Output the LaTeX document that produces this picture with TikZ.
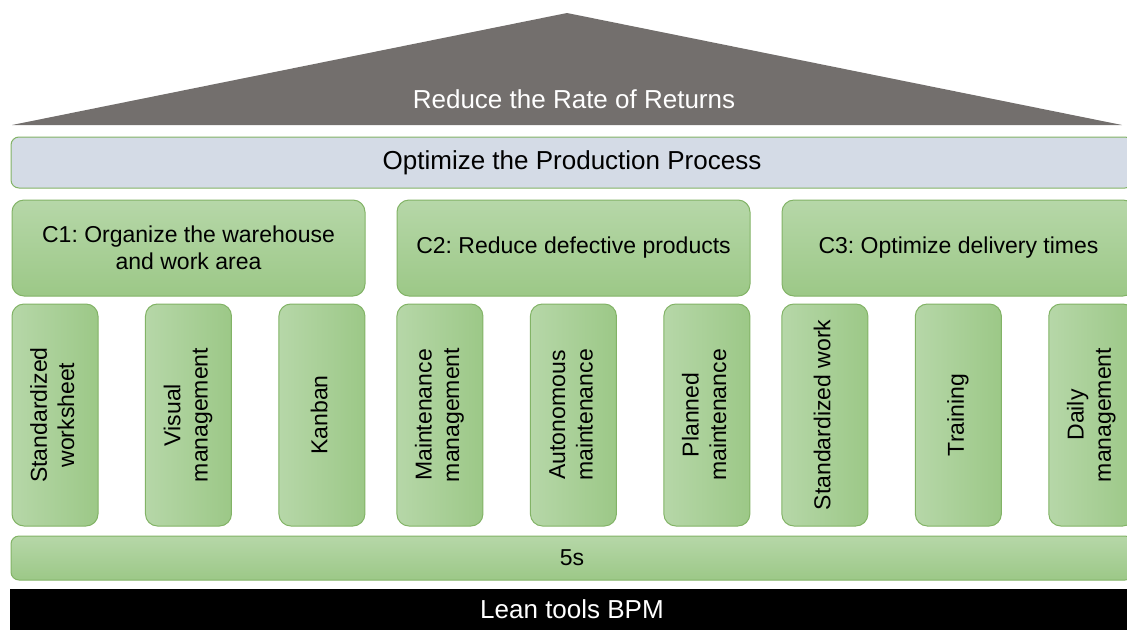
\documentclass[tikz,border=0pt]{standalone}
\usepackage{fontspec}
\setmainfont{Liberation Sans}
\usepackage{graphicx}
\usetikzlibrary{positioning}
\frenchspacing

\definecolor{roofgray}{HTML}{736F6D}
\definecolor{procfill}{HTML}{D4DBE6}
\definecolor{boxline}{HTML}{82B366}
\definecolor{greenlight}{HTML}{B6D7A8}
\definecolor{greendark}{HTML}{9CC887}

\newcommand{\vlabel}[1]{\rotatebox{90}{\begin{tabular}{@{}c@{}}#1\end{tabular}}}

\begin{document}
\begin{tikzpicture}[
  x=0.75pt, y=-0.75pt,
  node distance=1cm and 35.6pt,
  bigtext/.style={font=\fontsize{19.5}{22}\selectfont},
  smalltext/.style={font=\fontsize{17.25}{20.5}\selectfont},
  greenbox/.style={draw=boxline, line width=0.75pt, inner sep=0pt, outer sep=0pt, align=center, smalltext},
  goalbox/.style={greenbox, rounded corners=9pt, top color=greenlight, bottom color=greendark,
    minimum width=264.75pt, minimum height=72pt},
  pillar/.style={greenbox, rounded corners=9pt, left color=greenlight, right color=greendark,
    minimum width=64.5pt, minimum height=166.5pt}
]
\useasboundingbox (0,0) rectangle (1127,629);
\clip (0,0) rectangle (1127,629);

\fill[roofgray] (12,125) -- (567,13) -- (1122,125) -- cycle;
\node[bigtext, text=white] (roof) at (574,99) {Reduce the Rate of Returns};

\node[draw=boxline, line width=0.75pt, fill=procfill, rounded corners=6pt, bigtext,
  minimum width=841.5pt, minimum height=38.25pt] (process) at (572,162.5) {Optimize the Production Process};

\node[goalbox] (c1) at (188.5,248) {C1: Organize the warehouse\\and work area};
\node[goalbox, right=24pt of c1] (c2) {C2: Reduce defective products};
\node[goalbox, right=24pt of c2] (c3) {C3: Optimize delivery times};

\node[pillar, anchor=north west] (p1) at (12,304) {\vlabel{Standardized\\worksheet}};
\node[pillar, right=of p1] (p2) {\vlabel{Visual\\management}};
\node[pillar, right=of p2] (p3) {\vlabel{Kanban}};
\node[pillar, right=24pt of p3] (p4) {\vlabel{Maintenance\\management}};
\node[pillar, right=of p4] (p5) {\vlabel{Autonomous\\maintenance}};
\node[pillar, right=of p5] (p6) {\vlabel{Planned\\maintenance}};
\node[pillar, right=24pt of p6] (p7) {\vlabel{Standardized work}};
\node[pillar, right=of p7] (p8) {\vlabel{Training}};
\node[pillar, right=of p8] (p9) {\vlabel{Daily\\management}};

\node[greenbox, rounded corners=6pt, top color=greenlight, bottom color=greendark,
  minimum width=841.5pt, minimum height=33pt] (fives) at (572,558) {5s};
\node[fill=black, text=white, bigtext, inner sep=0pt,
  minimum width=843pt, minimum height=30.75pt] (lean) at (572,609.5) {Lean tools BPM};

\end{tikzpicture}
\end{document}
